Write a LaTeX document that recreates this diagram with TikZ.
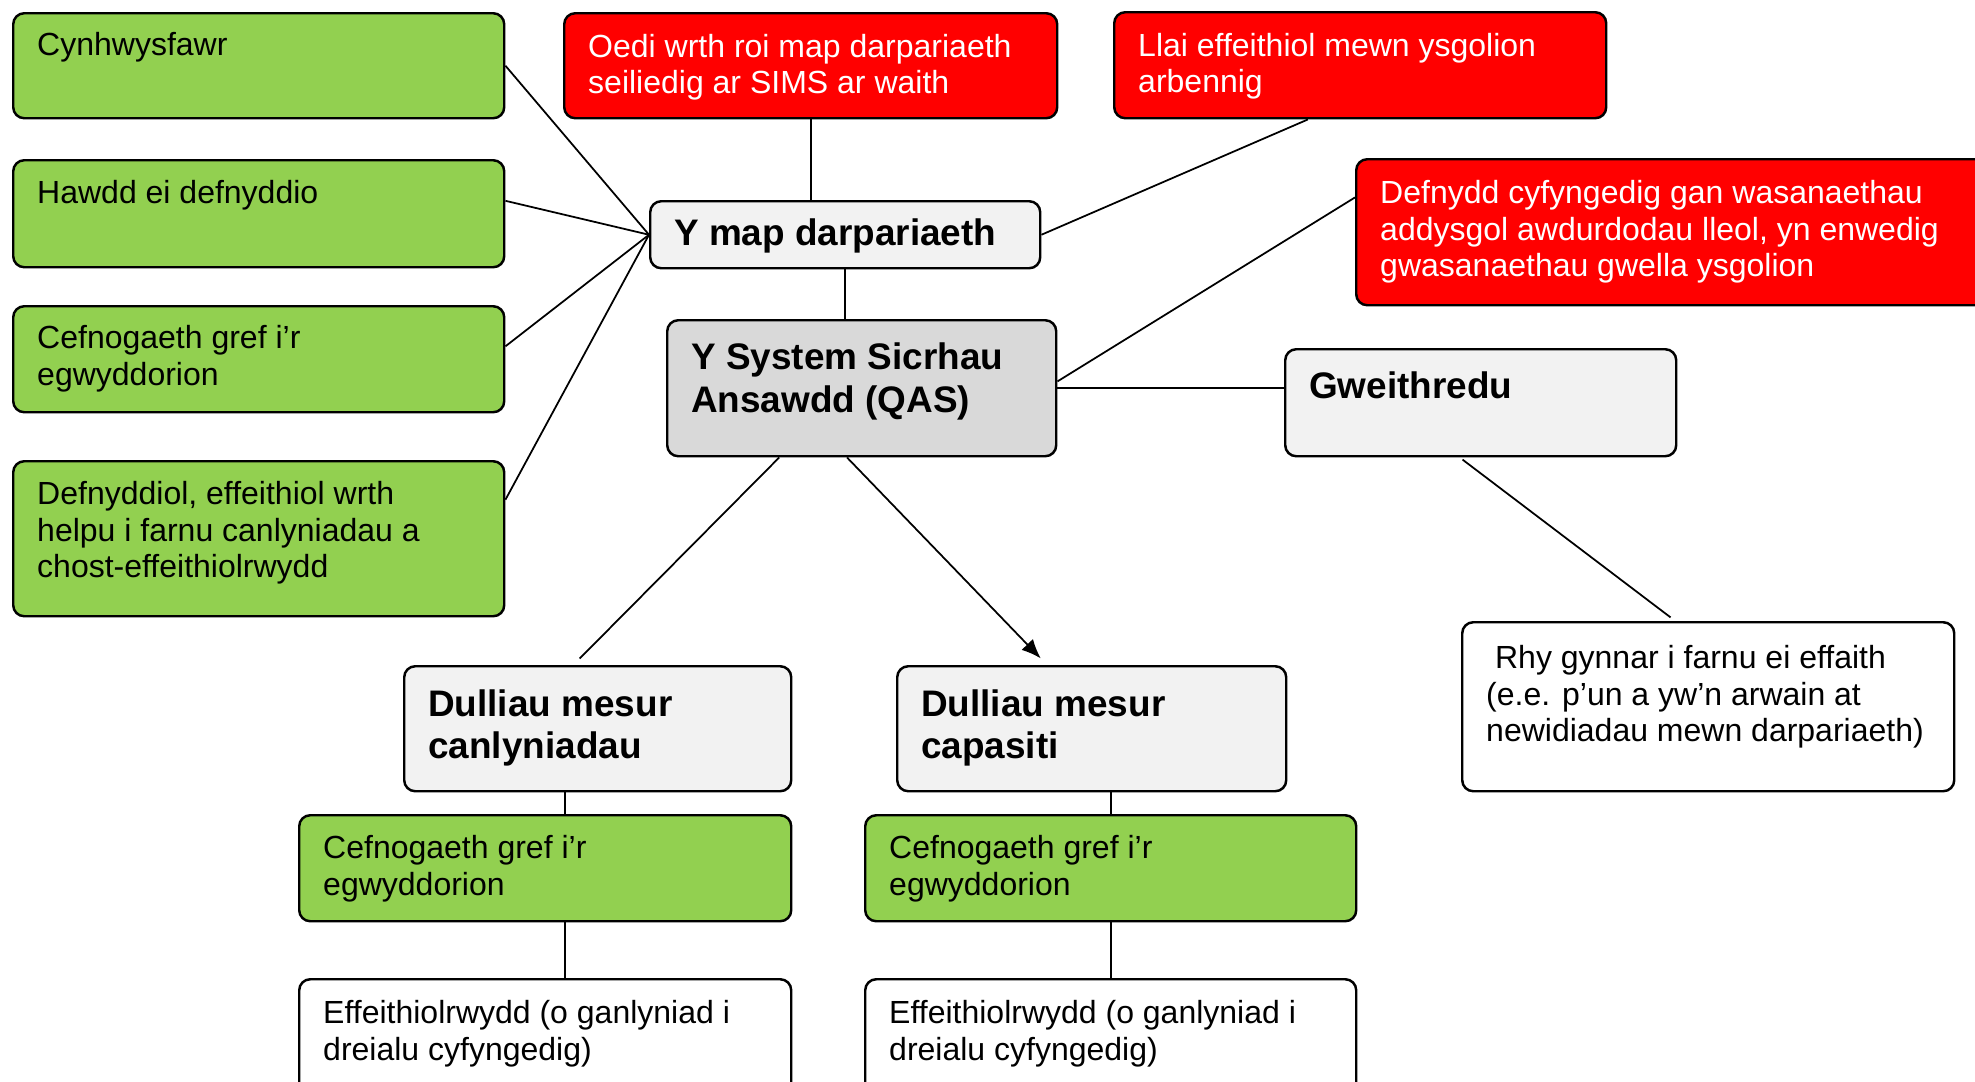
\documentclass[tikz,border=0pt]{standalone}
\usepackage{fontspec}
\setmainfont{Liberation Sans}
\usetikzlibrary{arrows.meta}

\definecolor{boxgreen}{HTML}{92D050}
\definecolor{boxred}{HTML}{FF0000}
\definecolor{boxgrey}{HTML}{F2F2F2}
\definecolor{qasgrey}{HTML}{D9D9D9}

\newlength{\pxu}\setlength{\pxu}{0.01cm}
\newcommand{\txtreg}{\fontsize{9.1}{10.4}\selectfont}
\newcommand{\txtbold}{\fontsize{10.5}{12.2}\selectfont\bfseries}
% box contents: [top pad]{width}{height}{text}, all in px
\newcommand{\boxtext}[4][20]{\parbox[c][#3\pxu][t]{#2\pxu}{\raggedright\leftskip=24\pxu\vspace*{#1\pxu}#4}}

\begin{document}
\begin{tikzpicture}[x=0.01cm,y=-0.01cm]
        \tikzstyle{box}=[draw=black,line width=0.7pt,rounded corners=0.11cm,anchor=north west,inner sep=0pt,font=\txtreg]
        \tikzstyle{greenbox}=[box,fill=boxgreen]
        \tikzstyle{redbox}=[box,fill=boxred,text=white]
        \tikzstyle{greybox}=[box,fill=boxgrey,font=\txtbold]
        \tikzstyle{whitebox}=[box,fill=white]
        \tikzstyle{link}=[draw,line width=0.5pt]
        \useasboundingbox (0,0) rectangle (1975,1081);
        \clip (0,0) rectangle (1975,1081);
       \begin{scope}
         % left column
         \node [greenbox] (cyn) at (12,12) {\boxtext[19]{491}{105}{Cynhwysfawr}};
         \node [greenbox] (hawdd) at (12,159) {\boxtext[20]{491}{107}{Hawdd ei defnyddio}};
         \node [greenbox] (cef) at (12,305) {\boxtext[19]{491}{106}{Cefnogaeth gref i’r\\egwyddorion}};
         \node [greenbox] (defn) at (12,460) {\boxtext[20]{491}{155}{Defnyddiol, effeithiol wrth\\helpu i farnu canlyniadau a\\chost-effeithiolrwydd}};
         % top row
         \node [redbox] (oedi) at (563,12) {\boxtext[21]{493}{105}{Oedi wrth roi map darpariaeth\\seiliedig ar SIMS ar waith}};
         \node [redbox] (llai) at (1113,11) {\boxtext[21]{492}{106}{Llai effeithiol mewn ysgolion\\arbennig}};
         \node [redbox] (defnydd) at (1355,158) {\boxtext[21]{660}{146}{Defnydd cyfyngedig gan wasanaethau\\addysgol awdurdodau lleol, yn enwedig\\gwasanaethau gwella ysgolion}};
         % centre
         \node [greybox] (ymap) at (649,200) {\boxtext[18]{390}{67}{Y map darpariaeth}};
         \node [greybox,fill=qasgrey] (qas) at (666,319) {\boxtext[23]{389}{136}{Y System Sicrhau\\Ansawdd (QAS)}};
         \node [greybox] (gwe) at (1284,348) {\boxtext[23]{391}{107}{Gweithredu}};
         \node [whitebox] (rhy) at (1461,621) {\boxtext[23]{492}{169}{\hspace*{0.278em}Rhy gynnar i farnu ei effaith\\(e.e. p’un a yw’n arwain at\\newidiadau mewn darpariaeth)}};
         % bottom
         \node [greybox] (dcan) at (403,665) {\boxtext[23]{387}{125}{Dulliau mesur\\canlyniadau}};
         \node [greybox] (dcap) at (896,665) {\boxtext[23]{389}{125}{Dulliau mesur\\capasiti}};
         \node [greenbox] (cefL) at (298,814) {\boxtext[20]{492}{106}{Cefnogaeth gref i’r\\egwyddorion}};
         \node [greenbox] (cefR) at (864,814) {\boxtext[20]{491}{106}{Cefnogaeth gref i’r\\egwyddorion}};
         \node [whitebox] (effL) at (298,978) {\boxtext[21]{492}{150}{Effeithiolrwydd (o ganlyniad i\\dreialu cyfyngedig)}};
         \node [whitebox] (effR) at (864,978) {\boxtext[21]{491}{150}{Effeithiolrwydd (o ganlyniad i\\dreialu cyfyngedig)}};
         \path[link] (cyn.east) edge (ymap.west);
         \path[link] (hawdd.3) edge (ymap.west);
         \path[link] (cef.3) edge (ymap.west);
         \path[link] (defn.9) edge (ymap.west);
         \path[link] (oedi.south) edge (oedi.south |- ymap.north);
         \path[link] (ymap.east) edge (llai.-134);
         \path[link] (ymap.south) edge (ymap.south |- qas.north);
         \path[link] (qas.2) edge (defnydd.174);
         \path[link] (qas.east) edge (qas.east -| gwe.west);
         \path[link] (qas.-140) edge [shorten >=2.6pt] (dcan.111);
         \path[link] (qas.-102) edge [-{Latex[length=5.5pt,width=4.5pt]},shorten >=2.6pt] (dcap.125);
         \path[link] (gwe.-111) edge [shorten <=1pt,shorten >=1.7pt] (rhy.111);
         \path[link] (dcan.-117.5) edge (dcan.-117.5 |- cefL.north);
         \path[link] (cefR.north |- dcap.south) edge (cefR.north);
         \path[link] (cefL.south -| dcan.-117.5) edge (effL.north -| dcan.-117.5);
         \path[link] (cefR.south) edge (effR.north);
        \end{scope}
      \end{tikzpicture}
\end{document}
